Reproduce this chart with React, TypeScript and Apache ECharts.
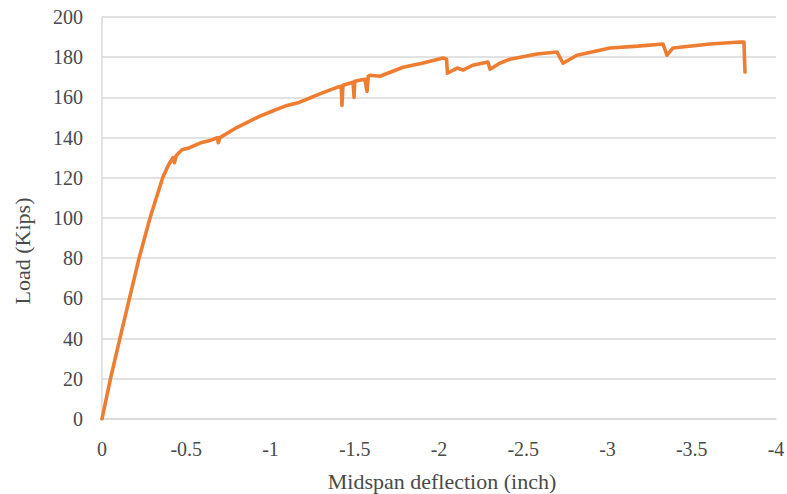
import React, { useEffect, useRef } from "react";
import * as echarts from "echarts";

const deflection = [
  0, -0.05, -0.106, -0.163, -0.22, -0.285, -0.36, -0.392, -0.421, -0.43, -0.44, -0.451, -0.475,
  -0.52, -0.582, -0.64, -0.685, -0.69, -0.70, -0.80, -0.938, -1.02, -1.098, -1.17, -1.234, -1.30,
  -1.395, -1.42, -1.424, -1.43, -1.49, -1.496, -1.50, -1.56, -1.573, -1.58, -1.59, -1.65, -1.786,
  -1.90, -2.024, -2.045, -2.05, -2.107, -2.142, -2.20, -2.29, -2.303, -2.36, -2.421, -2.582, -2.70,
  -2.736, -2.819, -3.015, -3.18, -3.329, -3.353, -3.389, -3.608, -3.786, -3.81, -3.816,
];
const load = [
  0, 20, 40, 60, 80, 100, 120, 126, 130, 127.5, 131, 132, 134,
  135, 137.3, 138.5, 140, 137.5, 140, 145, 150.7, 153.5, 156, 157.5, 159.7, 162,
  165, 165.5, 156, 166, 167.5, 160, 168, 169, 163, 170.5, 171, 170.5, 175,
  177, 179.6, 179, 172, 174.6, 173.6, 176, 177.6, 174, 177, 179, 181.6, 182.6,
  177, 181, 184.6, 185.5, 186.6, 181, 184.6, 186.6, 187.6, 187.5, 172.6,
];

const xTitle = "Midspan deflection (inch)";
const yTitle = "Load (Kips)";

export default function App() {
  const ref = useRef<HTMLDivElement>(null);
  useEffect(() => {
    if (!ref.current) return;
    const chart = echarts.init(ref.current, undefined, { renderer: "svg" });
    const font = "'Liberation Serif', 'Times New Roman', serif";
    chart.setOption({
      animation: false,
      backgroundColor: "#ffffff",
      grid: { left: 102, right: 11, top: 17, bottom: 75, outerBoundsMode: "none" },
      xAxis: {
        type: "value",
        min: -4,
        max: 0,
        interval: 0.5,
        inverse: true,
        axisLine: { show: true, lineStyle: { color: "#d9d9d9", width: 1.5 } },
        axisTick: { show: false },
        splitLine: { show: false },
        axisLabel: { color: "#4a4a4a", fontSize: 20, fontFamily: font, margin: 20 },
      },
      yAxis: {
        type: "value",
        min: 0,
        max: 200,
        interval: 20,
        axisLine: { show: true, lineStyle: { color: "#d9d9d9", width: 1.5 } },
        axisTick: { show: false },
        splitLine: { show: true, lineStyle: { color: "#d9d9d9", width: 1.5 } },
        axisLabel: { color: "#4a4a4a", fontSize: 20, fontFamily: font, margin: 19 },
      },
      graphic: [
        {
          type: "text",
          x: 442,
          y: 481,
          style: {
            text: xTitle,
            fill: "#4a4a4a",
            font: `22px ${font}`,
            align: "center",
            verticalAlign: "middle",
          },
        },
        {
          type: "text",
          x: 22,
          y: 251,
          rotation: Math.PI / 2,
          style: {
            text: yTitle,
            fill: "#4a4a4a",
            font: `22px ${font}`,
            align: "center",
            verticalAlign: "middle",
          },
        },
      ],
      series: [
        {
          type: "line",
          data: deflection.map((d, i) => [d, load[i]]),
          showSymbol: false,
          smooth: false,
          lineStyle: { color: "#ED7D31", width: 3.6, join: "round", cap: "round" },
          itemStyle: { color: "#ED7D31" },
        },
      ],
    });
    return () => chart.dispose();
  }, []);
  return (
    <div
      ref={ref}
      style={{ position: "fixed", left: 0, top: 0, width: 787, height: 494, background: "#fff" }}
    />
  );
}
